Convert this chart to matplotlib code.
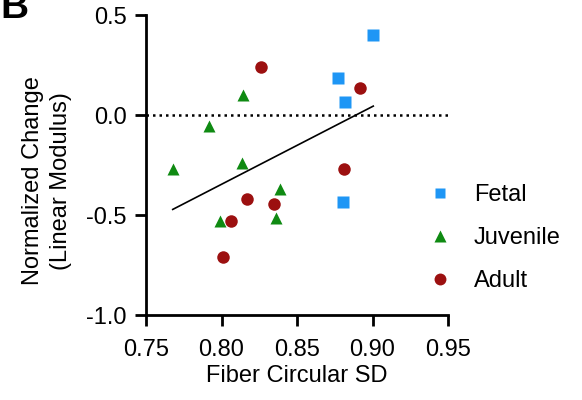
import numpy as np
import matplotlib
matplotlib.use("Agg")
import matplotlib.pyplot as plt

plt.rcParams['font.family'] = ['Liberation Sans', 'DejaVu Sans']

# Data
fetal_x = [0.9005, 0.8774, 0.8818, 0.8805]
fetal_y = [0.40, 0.183, 0.063, -0.433]
juvenile_x = [0.7677, 0.7914, 0.8142, 0.8136, 0.8386, 0.8364, 0.7992]
juvenile_y = [-0.27, -0.053, 0.10, -0.24, -0.37, -0.517, -0.53]
adult_x = [0.826, 0.8915, 0.881, 0.8169, 0.835, 0.8065, 0.801]
adult_y = [0.238, 0.133, -0.27, -0.42, -0.445, -0.53, -0.712]

x_ticks = [0.75, 0.80, 0.85, 0.90, 0.95]
x_ticklabels = ["0.75", "0.80", "0.85", "0.90", "0.95"]
y_ticks = [-1.0, -0.5, 0.0, 0.5]
y_ticklabels = ["-1.0", "-0.5", "0.0", "0.5"]

c_fetal = '#1e96f5'
c_juv = '#0f8a12'
c_adult = '#9c1010'

fig = plt.figure(figsize=(5.82, 4.0), dpi=100)
ax = fig.add_axes([146/582, 1-315/400, (448-146)/582, 300/400])

ax.plot(fetal_x, fetal_y, 's', color=c_fetal, ms=8, mec='none', label='Fetal', clip_on=False)
ax.plot(juvenile_x, juvenile_y, '^', color=c_juv, ms=9, mec='none', label='Juvenile', clip_on=False)
ax.plot(adult_x, adult_y, 'o', color=c_adult, ms=9, mec='none', label='Adult', clip_on=False)

# linear regression over all points
all_x = np.array(fetal_x + juvenile_x + adult_x)
all_y = np.array(fetal_y + juvenile_y + adult_y)
slope, intercept = np.polyfit(all_x, all_y, 1)
fx = np.array([all_x.min(), all_x.max()])
ax.plot(fx, slope*fx + intercept, color='black', lw=1.2, zorder=1)

ax.axhline(0, color='black', lw=1.8, linestyle=(0, (1, 1.6)), zorder=0)

ax.set_xlim(0.75, 0.95)
ax.set_ylim(-1.0, 0.5)
ax.set_xticks(x_ticks)
ax.set_xticklabels(x_ticklabels)
ax.set_yticks(y_ticks)
ax.set_yticklabels(y_ticklabels)

for s in ['top', 'right']:
    ax.spines[s].set_visible(False)
for s in ['left', 'bottom']:
    ax.spines[s].set_linewidth(2)
ax.tick_params(axis='both', width=2, length=8, labelsize=17, color='black')
ax.tick_params(axis='x', pad=9)
ax.tick_params(axis='y', pad=6)

ax.set_xlabel('Fiber Circular SD', fontsize=17, labelpad=3)
ax.set_ylabel('Normalized Change\n(Linear Modulus)', fontsize=17, linespacing=1.35)
ax.yaxis.set_label_coords(-0.245, 0.447)

leg = ax.legend(loc='center left', bbox_to_anchor=(428/582, 1-238/400),
                bbox_transform=fig.transFigure, frameon=False, fontsize=17,
                handlelength=1.0, handletextpad=0.95, labelspacing=0.88,
                markerscale=0.95, borderaxespad=0, borderpad=0)

fig.text(0.0, 1-18/400, 'B', fontsize=28, fontweight='bold', ha='left', va='baseline')

fig.savefig('out.png', dpi=100)
